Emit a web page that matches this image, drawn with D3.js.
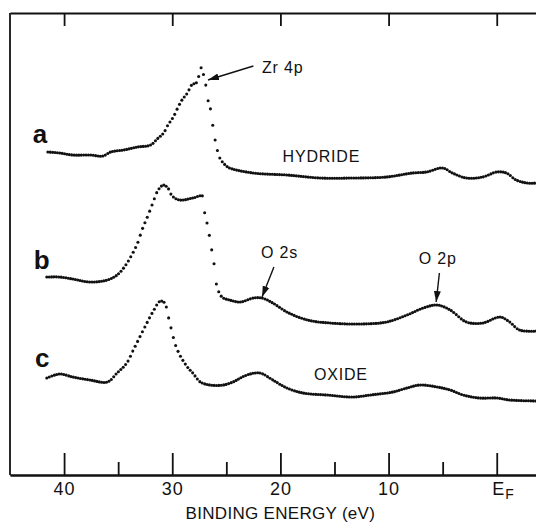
<!DOCTYPE html>
<html>
<head>
<meta charset="utf-8">
<script src="https://cdn.jsdelivr.net/npm/d3@7"></script>
<style>
  body { margin: 0; background: #fff; }
  svg text { font-family: "Liberation Sans", Arial, sans-serif; fill: #111; }
</style>
</head>
<body>
<div id="wrapper"></div>
<script>
// binding energy (eV) and intensity (arb. units, with vertical offset)
const hydrideEnergy = [41.5, 40.4, 39.2, 37.6, 36.4, 35.7, 34.5, 33.2, 32.0, 31.4, 30.8, 30.4, 29.9, 29.5, 29.1, 28.6, 28.2, 27.7, 27.4, 27.1, 26.9, 26.7, 26.4, 26.2, 26.0, 25.9, 25.6, 25.1, 24.7, 22.5, 19.4, 16.3, 13.3, 10.2, 7.8, 6.5, 5.0, 4.1, 2.8, 1.3, 0, -0.9, -1.8, -2.8, -3.8] ;
const hydrideCounts = [32.3, 32.2, 32.0, 32.0, 31.9, 32.3, 32.5, 32.8, 33.0, 33.6, 34.2, 35.0, 35.8, 36.7, 37.5, 38.2, 39.0, 39.3, 40.8, 40.0, 39.0, 37.5, 36.3, 34.5, 33.3, 32.8, 31.7, 31.0, 30.7, 30.2, 30.0, 29.7, 29.7, 29.8, 30.2, 30.3, 30.7, 30.2, 29.7, 29.8, 30.3, 30.2, 29.5, 29.2, 29.2] ;

const mixedEnergy = [41.6, 40.4, 39.2, 37.6, 36.0, 35.1, 34.5, 33.9, 33.2, 32.8, 32.3, 31.8, 31.3, 30.8, 30.4, 30.0, 29.3, 28.1, 27.2, 27.0, 26.7, 26.5, 26.2, 26.0, 25.9, 25.4, 24.7, 23.7, 22.5, 21.7, 20.7, 19.4, 17.5, 15.4, 12.7, 10.2, 8.3, 6.8, 5.5, 4.3, 2.8, 1.3, -0.3, -1.2, -2.1, -3.8] ;
const mixedCounts = [19.8, 19.8, 19.6, 19.3, 19.5, 20.0, 20.7, 21.7, 23.2, 24.5, 25.8, 27.2, 28.5, 29.0, 28.7, 27.9, 27.5, 27.7, 27.9, 26.2, 24.8, 23.5, 21.5, 20.3, 19.0, 17.8, 17.5, 17.3, 17.7, 17.7, 17.2, 16.3, 15.5, 15.2, 15.1, 15.3, 16.0, 16.7, 17.0, 16.5, 15.3, 15.2, 15.8, 15.3, 14.5, 14.4] ;

const oxideEnergy = [41.6, 40.4, 39.2, 37.6, 36.0, 35.1, 34.2, 33.6, 33.0, 32.3, 31.8, 31.1, 30.7, 30.4, 30.0, 29.7, 29.3, 28.6, 28.1, 27.4, 26.5, 25.3, 24.4, 23.1, 21.9, 20.7, 19.4, 17.9, 15.7, 13.3, 11.7, 9.6, 8.3, 7.1, 5.5, 4.3, 3.1, 1.6, 0, -1.2, -3.8] ;
const oxideCounts = [9.7, 10.1, 9.8, 9.5, 9.3, 10.2, 11.2, 12.5, 13.8, 15.3, 16.3, 17.4, 17.2, 16.0, 14.2, 13.0, 12.0, 10.8, 10.2, 9.3, 9.0, 9.0, 9.3, 10.0, 10.2, 9.5, 8.7, 8.2, 8.0, 7.8, 8.0, 8.3, 8.7, 9.0, 8.8, 8.5, 8.0, 7.7, 7.7, 7.5, 7.4] ;

const majorTicks = [40, 30, 20, 10, 0] ;
const minorTicks = [35, 25, 15, 5] ;
const tickLabels = ["40", "30", "20", "10", "E"] ;

const curveLabels = ["a", "b", "c"] ;
const labelEnergy = [42.9, 42.8, 42.7] ;
const labelCounts = [33.2, 20.6, 10.8] ;

// [text, energy, counts]
const notes = [
  ["Zr 4p", 21.7, 40.2],
  ["HYDRIDE", 19.8, 31.3],
  ["O 2s", 21.8, 21.7],
  ["O 2p", 7.2, 21.1],
  ["OXIDE", 16.9, 9.5]
] ;
// [fromE, fromC, toE, toC]
const arrows = [
  [22.5, 40.9, 26.7, 39.5],
  [20.6, 20.8, 21.7, 17.8],
  [5.3, 20.2, 5.6, 17.3]
] ;

const dimensions = {
  width: 536,
  height: 522,
  left: 10,
  top: 13,
  bottom: 475
} ;

const svg = d3.select("#wrapper").append("svg")
  .attr("width", dimensions.width)
  .attr("height", dimensions.height) ;

const xScale = d3.scaleLinear()
  .domain([45, -4])
  .range([dimensions.left, 540]) ;

const yScale = d3.scaleLinear()
  .domain([0, 46.2])
  .range([dimensions.bottom, dimensions.top]) ;

// frame + ticks
const topAxis = svg.append("g")
  .attr("transform", `translate(0, ${dimensions.top})`)
  .call(d3.axisTop(xScale).tickValues(majorTicks).tickSize(-13).tickSizeOuter(0).tickFormat(""))
 ;
const bottomMinor = svg.append("g")
  .attr("transform", `translate(0, ${dimensions.bottom})`)
  .call(d3.axisBottom(xScale).tickValues(minorTicks).tickSize(-13).tickSizeOuter(0).tickFormat(""))
 ;
const bottomAxis = svg.append("g")
  .attr("transform", `translate(0, ${dimensions.bottom})`)
  .call(d3.axisBottom(xScale).tickValues(majorTicks).tickSize(-22).tickSizeOuter(0).tickPadding(7)
    .tickFormat((d, i) => tickLabels[i]))
 ;
svg.selectAll(".domain, .tick line").attr("stroke", "#111").attr("stroke-width", 1.8) ;
bottomAxis.selectAll(".tick text")
  .attr("font-size", 18)
  .style("font-family", "Liberation Sans, Arial, sans-serif")
  .attr("letter-spacing", 1) ;
bottomAxis.selectAll(".tick text").filter((d) => d === 0)
  .attr("text-anchor", "start").attr("x", -5)
  .append("tspan").attr("dy", "0.3em").attr("font-size", 14).text("F") ;

svg.append("line")
  .attr("x1", xScale(45)).attr("x2", xScale(45))
  .attr("y1", dimensions.top).attr("y2", dimensions.bottom)
  .attr("stroke", "#111").attr("stroke-width", 1.8) ;

svg.append("text")
  .attr("x", xScale(20)).attr("y", 519)
  .attr("text-anchor", "middle")
  .attr("font-size", 17)
  .attr("letter-spacing", 0.3)
  .text("BINDING ENERGY (eV)") ;

// spectra drawn as dots, one per small energy step like the original recorder
const lineGen = d3.line()
  .x((d) => xScale(d[0]))
  .y((d) => yScale(d[1]))
  .curve(d3.curveCatmullRom.alpha(0.5)) ;

const series = [
  d3.zip(hydrideEnergy, hydrideCounts),
  d3.zip(mixedEnergy, mixedCounts),
  d3.zip(oxideEnergy, oxideCounts)
] ;

series.forEach((pts) => {
  const guide = svg.append("path")
    .attr("d", lineGen(pts))
    .attr("fill", "none")
    .attr("stroke", "none") ;
  const node = guide.node() ;
  const total = node.getTotalLength() ;
  const dots = [] ;
  let lastX = -Infinity ;
  for (let s = 0 ; s <= total ; s += 0.3) {
    const p = node.getPointAtLength(s) ;
    if (p.x - lastX >= 2.3) {
      dots.push([p.x, p.y]) ;
      lastX = p.x ;
    }
  }
  svg.append("g").selectAll("circle")
    .data(dots)
    .enter().append("circle")
      .attr("cx", (d) => d[0])
      .attr("cy", (d) => d[1])
      .attr("r", 1.55)
      .attr("fill", "#111") ;
}) ;

// curve letters
svg.selectAll("text.curve-label")
  .data(curveLabels)
  .enter().append("text")
    .attr("class", "curve-label")
    .attr("x", (d, i) => xScale(labelEnergy[i]))
    .attr("y", (d, i) => yScale(labelCounts[i]))
    .attr("font-size", 26)
    .attr("font-weight", "bold")
    .text((d) => d) ;

// annotations
svg.selectAll("text.note")
  .data(notes)
  .enter().append("text")
    .attr("class", "note")
    .attr("x", (d) => xScale(d[1]))
    .attr("y", (d) => yScale(d[2]))
    .attr("font-size", 16)
    .attr("letter-spacing", 0.8)
    .text((d) => d[0]) ;

svg.append("defs").append("marker")
  .attr("id", "head")
  .attr("markerUnits", "userSpaceOnUse")
  .attr("markerWidth", 12).attr("markerHeight", 8)
  .attr("refX", 11).attr("refY", 4)
  .attr("orient", "auto")
  .append("path")
    .attr("d", "M0,0.5 L11,4 L0,7.5 Z")
    .attr("fill", "#111") ;

svg.selectAll("line.arrow")
  .data(arrows)
  .enter().append("line")
    .attr("class", "arrow")
    .attr("x1", (d) => xScale(d[0]))
    .attr("y1", (d) => yScale(d[1]))
    .attr("x2", (d) => xScale(d[2]))
    .attr("y2", (d) => yScale(d[3]))
    .attr("stroke", "#111")
    .attr("stroke-width", 1.4)
    .attr("marker-end", "url(#head)") ;
</script>
</body>
</html>
